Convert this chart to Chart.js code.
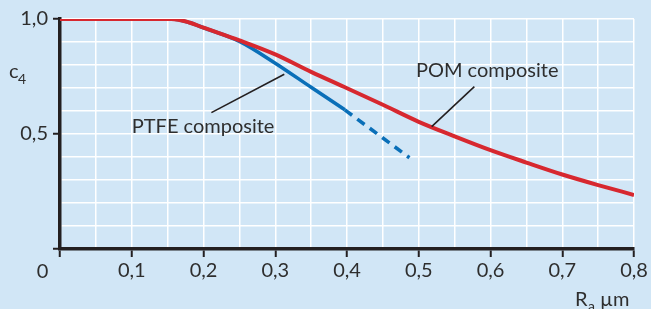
<!DOCTYPE html>
<html>
<head>
<meta charset="utf-8">
<script src="https://cdn.jsdelivr.net/npm/chart.js@4.4.1/dist/chart.umd.min.js"></script>
<style>
  html, body { margin: 0; padding: 0; background: #d1e6f6; }
  #wrap { width: 651px; height: 309px; position: relative; }
  canvas { display: block; }
</style>
</head>
<body>
<div id="wrap"><canvas id="c" width="651" height="309"></canvas></div>
<script>
// ---- data ----
const pomRa   = [0, 0.155, 0.18, 0.2, 0.25, 0.3, 0.35, 0.4, 0.45, 0.5, 0.55, 0.6, 0.65, 0.7, 0.75, 0.8];
const pomC4   = [1.0, 1.0, 0.985, 0.962, 0.907, 0.846, 0.77, 0.699, 0.627, 0.553, 0.49, 0.43, 0.376, 0.324, 0.278, 0.235];
const ptfeRa  = [0, 0.155, 0.18, 0.2, 0.25, 0.3, 0.35, 0.397];
const ptfeC4  = [1.0, 1.0, 0.985, 0.962, 0.903, 0.808, 0.703, 0.605];
const ptfeExtRa = [0.397, 0.487];
const ptfeExtC4 = [0.605, 0.397];
const xTickLabels = ['0', '0,1', '0,2', '0,3', '0,4', '0,5', '0,6', '0,7', '0,8'];
const yTickLabels = { '0.5': '0,5', '1': '1,0' };
const seriesNames = ['POM composite', 'PTFE composite'];
// annotation anchors in data units
const pomLabel  = { x: 0.496, y: 0.75, from: [0.518, 0.532], to: [0.5775, 0.706] };
const ptfeLabel = { x: 0.1,   y: 0.503, from: [0.211, 0.593], to: [0.3126, 0.76] };

const toXY = (xs, ys) => xs.map((x, i) => ({ x: x, y: ys[i] }));

const RED = '#d7282f', BLUE = '#0a6fb8', DARK = '#231f20', TEXT = '#2e2e2e';
const FONT = "Lato, 'Liberation Sans', sans-serif";

const annot = {
  id: 'annot',
  afterDraw(chart) {
    const { ctx, scales: { x, y } } = chart;
    ctx.save();
    ctx.fillStyle = TEXT;
    ctx.strokeStyle = DARK;
    ctx.lineWidth = 1.6;
    // leader lines
    [pomLabel, ptfeLabel].forEach(l => {
      ctx.beginPath();
      ctx.moveTo(x.getPixelForValue(l.from[0]), y.getPixelForValue(l.from[1]));
      ctx.lineTo(x.getPixelForValue(l.to[0]), y.getPixelForValue(l.to[1]));
      ctx.stroke();
    });
    ctx.font = "20px " + FONT;
    ctx.textBaseline = 'alphabetic';
    ctx.textAlign = 'left';
    ctx.fillText(seriesNames[0], x.getPixelForValue(pomLabel.x), y.getPixelForValue(pomLabel.y));
    ctx.fillText(seriesNames[1], x.getPixelForValue(ptfeLabel.x), y.getPixelForValue(ptfeLabel.y));
    // "0" origin label, left of the axis
    ctx.textAlign = 'center';
    ctx.fillText(xTickLabels[0], x.left - 17.5, 277.5);
    // axis titles
    ctx.textAlign = 'left';
    ctx.font = "20px " + FONT;
    ctx.fillText('c', 9, 78);
    ctx.font = "14px " + FONT;
    ctx.fillText('4', 18, 83.5);
    ctx.font = "20px " + FONT;
    ctx.fillText('R', 575, 306);
    ctx.font = "14px " + FONT;
    ctx.fillText('a', 588, 311);
    ctx.font = "20px " + FONT;
    ctx.fillText('\u00b5m', 600, 306);
    ctx.restore();
  }
};

const isTenth = v => Math.abs(Math.round(v * 100) % 10) === 0;

new Chart(document.getElementById('c'), {
  type: 'line',
  data: {
    datasets: [
      { label: seriesNames[0], data: toXY(pomRa, pomC4), borderColor: RED, borderWidth: 4,
        pointRadius: 0, cubicInterpolationMode: 'monotone', fill: false },
      { label: seriesNames[1], data: toXY(ptfeRa, ptfeC4), borderColor: BLUE, borderWidth: 3.6,
        pointRadius: 0, cubicInterpolationMode: 'monotone', fill: false },
      { label: seriesNames[1] + ' (extrapolated)', data: toXY(ptfeExtRa, ptfeExtC4), borderColor: BLUE,
        borderWidth: 3.6, borderDash: [9, 6.5], pointRadius: 0, fill: false }
    ]
  },
  options: {
    responsive: false,
    animation: false,
    devicePixelRatio: 1,
    layout: { padding: { top: 19, right: 17, left: 0, bottom: 0 } },
    plugins: { legend: { display: false }, tooltip: { enabled: false } },
    scales: {
      x: {
        type: 'linear', min: 0, max: 0.8,
        afterFit: s => { s.height = 60; },
        border: { color: DARK, width: 3.5 },
        grid: {
          color: '#ffffff', lineWidth: 1.5, drawTicks: true, tickLength: 8, tickWidth: 2,
          tickColor: c => isTenth(c.tick.value) ? DARK : 'rgba(0,0,0,0)'
        },
        ticks: {
          stepSize: 0.05, autoSkip: false, maxRotation: 0, padding: 2,
          color: TEXT, font: { family: FONT, size: 20 },
          callback: v => {
            if (!isTenth(v)) return '';
            const i = Math.round(v * 10);
            return i === 0 ? '' : xTickLabels[i];
          }
        }
      },
      y: {
        type: 'linear', min: 0, max: 1,
        afterFit: s => { s.width = 60; },
        border: { color: DARK, width: 3.5 },
        grid: {
          color: '#ffffff', lineWidth: 1.5, drawTicks: true, tickLength: 7, tickWidth: 2,
          tickColor: c => {
            const k = Math.round(c.tick.value * 10);
            return (k === 0 || k === 5 || k === 10) ? DARK : 'rgba(0,0,0,0)';
          }
        },
        ticks: {
          stepSize: 0.1, autoSkip: false, padding: 5,
          color: TEXT, font: { family: FONT, size: 20 },
          callback: v => yTickLabels[String(Math.round(v * 10) / 10)] || ''
        }
      }
    }
  },
  plugins: [annot]
});
</script>
</body>
</html>
